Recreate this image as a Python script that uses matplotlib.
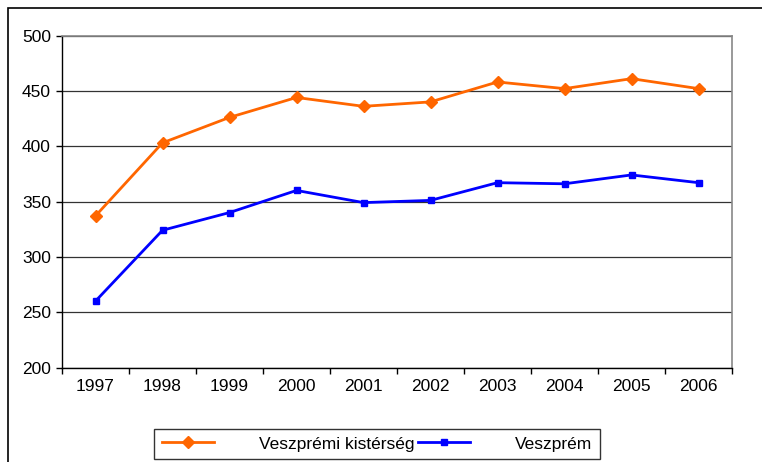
import matplotlib.pyplot as plt
from matplotlib.lines import Line2D
from matplotlib.patches import Rectangle
import numpy as np

plt.rcParams["font.family"] = ["Liberation Sans", "DejaVu Sans"]

years = ["1997", "1998", "1999", "2000", "2001", "2002", "2003", "2004", "2005", "2006"]
kisterseg = [337, 403, 426, 444, 436, 440, 458, 452, 461, 452]
veszprem = [260, 324, 340, 360, 349, 351, 367, 366, 374, 367]
yticks = [200, 250, 300, 350, 400, 450, 500]

fig = plt.figure(figsize=(7.62, 4.62), dpi=100)
W, H = 762, 462
ax = fig.add_axes([62 / W, 1 - 367.5 / H, (732 - 62) / W, (367.5 - 35.5) / H])

# outer chart border (cut by the image edges)
fig.add_artist(Rectangle((8 / W, -0.1), 1.2, 1 - 8 / H + 0.1, transform=fig.transFigure,
                         fill=False, edgecolor="black", lw=1.2))

x = np.arange(len(years))
ax.plot(x, kisterseg, color="#FF6600", lw=2, marker="D", ms=6.5, zorder=3)
ax.plot(x, veszprem, color="#0000FF", lw=2, marker="s", ms=5, zorder=3)

ax.set_xlim(-0.5, len(years) - 0.5)
ax.set_ylim(200, 500)
ax.set_yticks(yticks)
ax.set_xticks(x)
ax.set_xticklabels(years)
ax.set_xticks(np.arange(-0.5, len(years)), minor=True)
ax.tick_params(axis="x", which="major", length=0, labelsize=12.5, pad=8)
ax.tick_params(axis="x", which="minor", length=4, width=1, direction="out")
ax.tick_params(axis="y", length=4, width=1, labelsize=12.5, pad=4)
ax.yaxis.grid(True, color="#333333", lw=0.9)
ax.set_axisbelow(True)

for side in ["top", "right"]:
    ax.spines[side].set_color("#888888")
    ax.spines[side].set_linewidth(1.2)
ax.spines["left"].set_linewidth(1)
ax.spines["bottom"].set_linewidth(1)

handles = [
    Line2D([], [], color="#FF6600", lw=2, marker="D", ms=6.5),
    Line2D([], [], color="#0000FF", lw=2, marker="s", ms=5),
]
leg = fig.legend(handles, ["Veszprémi kistérség", "Veszprém"], ncol=2,
                 loc="center", bbox_to_anchor=(377 / W, 1 - 444 / H),
                 fontsize=12.5, frameon=True, fancybox=False, edgecolor="black",
                 handlelength=3.0, handletextpad=2.6, columnspacing=0.2,
                 borderpad=0.45, borderaxespad=0)
leg.get_frame().set_linewidth(1)

fig.savefig("out.png", dpi=100)
